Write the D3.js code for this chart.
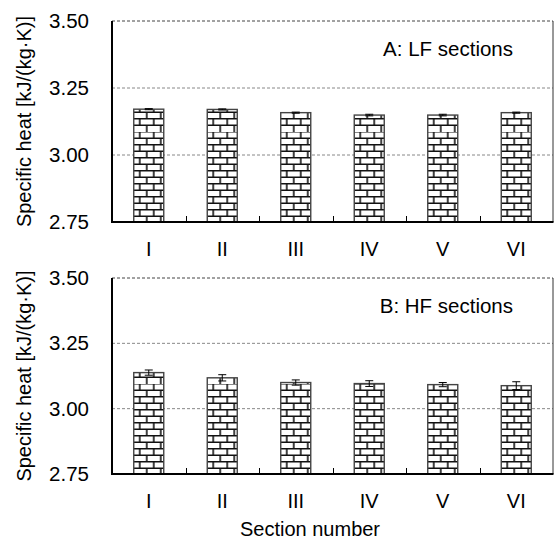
<!doctype html>
<html>
<meta charset="utf-8">
<head>
<script src="https://cdn.jsdelivr.net/npm/d3@7"></script>
<style>
  body { margin: 0; background: #fff; }
  text { font-family: "Liberation Sans", Arial, sans-serif; fill: #000; }
</style>
</head>
<body>
<script>
  // data
  var sections = ["I", "II", "III", "IV", "V", "VI"];
  var lfValues = [3.171, 3.170, 3.158, 3.149, 3.149, 3.158];
  var lfErrors = [0.002, 0.002, 0.002, 0.003, 0.003, 0.002];
  var hfValues = [3.138, 3.118, 3.100, 3.096, 3.092, 3.088];
  var hfErrors = [0.010, 0.012, 0.010, 0.011, 0.008, 0.015];
  var yTicks = [2.75, 3.00, 3.25, 3.50];
  var panelLabels = ["A: LF sections", "B: HF sections"];

  var width = 557, height = 543;
  var left = 112, right = 553;

  var svg = d3.select("body").append("svg")
    .attr("width", width)
    .attr("height", height);

  // brick hatch
  var defs = svg.append("defs");
  var pat = defs.append("pattern")
    .attr("id", "brick")
    .attr("patternUnits", "userSpaceOnUse")
    .attr("width", 14)
    .attr("height", 13);
  pat.append("rect").attr("width", 14).attr("height", 13).attr("fill", "#fff");
  pat.append("path")
    .attr("d", "M0,0.8H14 M0,7.3H14 M6,0V7.3 M13,7.3V13")
    .attr("stroke", "#111")
    .attr("stroke-width", 1.6)
    .attr("fill", "none");

  var x = d3.scaleBand()
    .domain(sections)
    .range([left, right])
    .paddingInner(0)
    .paddingOuter(0);
  var barW = 30;

  function panel(top, bottom, values, errors, label) {
    var y = d3.scaleLinear().domain([2.75, 3.5]).range([bottom, top]);
    var g = svg.append("g");

    // grid lines
    g.selectAll("line.grid")
      .data(yTicks.slice(1))
      .enter().append("line")
      .attr("x1", left).attr("x2", right)
      .attr("y1", function(d) { return y(d); })
      .attr("y2", function(d) { return y(d); })
      .attr("stroke", function(d) { return d === 3.5 ? "#444" : "#888"; })
      .attr("stroke-width", 1)
      .attr("stroke-dasharray", "3,2");

    // right border
    g.append("line")
      .attr("x1", right).attr("x2", right)
      .attr("y1", top).attr("y2", bottom)
      .attr("stroke", "#333").attr("stroke-width", 1);

    // bars
    var bars = g.selectAll("g.bar")
      .data(values)
      .enter().append("g")
      .attr("class", "bar")
      .attr("transform", function(d, i) {
        return "translate(" + (x(sections[i]) + x.bandwidth() / 2 - barW / 2) + "," + bottom + ")";
      });
    bars.append("rect")
      .attr("x", 0)
      .attr("y", function(d) { return y(d) - bottom; })
      .attr("width", barW)
      .attr("height", function(d) { return bottom - y(d); })
      .attr("fill", "url(#brick)")
      .attr("stroke", "#444")
      .attr("stroke-width", 1.4);

    // error bars
    var err = g.selectAll("g.err")
      .data(values)
      .enter().append("g")
      .attr("stroke", "#000")
      .attr("stroke-width", 1);
    function cx(i) { return x(sections[i]) + x.bandwidth() / 2; }
    err.append("line")
      .attr("x1", function(d, i) { return cx(i); })
      .attr("x2", function(d, i) { return cx(i); })
      .attr("y1", function(d, i) { return y(d - errors[i]); })
      .attr("y2", function(d, i) { return y(d + errors[i]); });
    err.append("line")
      .attr("x1", function(d, i) { return cx(i) - 4; })
      .attr("x2", function(d, i) { return cx(i) + 4; })
      .attr("y1", function(d, i) { return y(d + errors[i]); })
      .attr("y2", function(d, i) { return y(d + errors[i]); });
    err.append("line")
      .attr("x1", function(d, i) { return cx(i) - 4; })
      .attr("x2", function(d, i) { return cx(i) + 4; })
      .attr("y1", function(d, i) { return y(d - errors[i]); })
      .attr("y2", function(d, i) { return y(d - errors[i]); });

    // x axis: ticks inside at category boundaries
    g.selectAll("line.xt")
      .data(sections.slice(1))
      .enter().append("line")
      .attr("x1", function(d) { return Math.round(x(d)) + 0.5; })
      .attr("x2", function(d) { return Math.round(x(d)) + 0.5; })
      .attr("y1", bottom).attr("y2", bottom - 6)
      .attr("stroke", "#000").attr("stroke-width", 1);
    g.append("line")
      .attr("x1", left - 1).attr("x2", right + 0.5)
      .attr("y1", bottom).attr("y2", bottom)
      .attr("stroke", "#000").attr("stroke-width", 2);
    g.append("line")
      .attr("x1", left).attr("x2", left)
      .attr("y1", top).attr("y2", bottom + 1)
      .attr("stroke", "#000").attr("stroke-width", 2);

    g.selectAll("text.xl")
      .data(sections)
      .enter().append("text")
      .attr("x", function(d) { return x(d) + x.bandwidth() / 2; })
      .attr("y", bottom + 34)
      .attr("text-anchor", "middle")
      .style("font-size", "20px")
      .text(function(d) { return d; });

    g.selectAll("text.yl")
      .data(yTicks)
      .enter().append("text")
      .attr("x", 89)
      .attr("y", function(d) { return y(d) + 7; })
      .attr("text-anchor", "end")
      .style("font-size", "20.5px")
      .text(function(d) { return d3.format(".2f")(d); });

    g.append("text")
      .attr("transform", "translate(31," + ((top + bottom) / 2) + ") rotate(-90)")
      .attr("text-anchor", "middle")
      .style("font-size", "20px")
      .text("Specific heat  [kJ/(kg\u00B7K)]");

    g.append("text")
      .attr("x", 513)
      .attr("y", top + 35)
      .attr("text-anchor", "end")
      .style("font-size", "20.5px")
      .text(label);
  }

  panel(21, 222, lfValues, lfErrors, panelLabels[0]);
  panel(278, 474, hfValues, hfErrors, panelLabels[1]);

  svg.append("text")
    .attr("x", 310)
    .attr("y", 536)
    .attr("text-anchor", "middle")
    .style("font-size", "20px")
    .text("Section number");
</script>
</body>
</html>
